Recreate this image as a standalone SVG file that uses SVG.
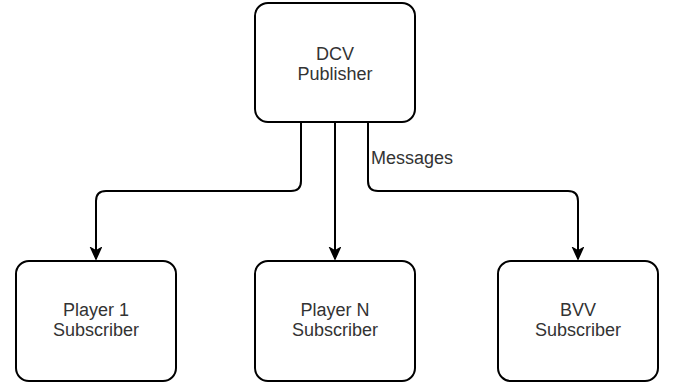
<svg xmlns="http://www.w3.org/2000/svg" width="673" height="383" viewBox="0 0 673 383">
<style>
.box{fill:#fff;stroke:#000;stroke-width:2}
.lbl{font-family:"Liberation Sans",Arial,sans-serif;font-size:18px;fill:#333;text-anchor:middle}
.edge{fill:none;stroke:#000;stroke-width:2}
.el{font-family:"Liberation Sans",Arial,sans-serif;font-size:18px;fill:#333}
</style>
<defs>
<marker id="arr" markerUnits="userSpaceOnUse" markerWidth="14" markerHeight="14" refX="12" refY="6" orient="auto">
<path d="M1,1 L12,6 L1,11 L4,6 z" fill="#000" stroke="#000" stroke-width="1.5" stroke-linejoin="miter"/>
</marker>
</defs>
<g id="connectors">
<path class="edge" d="M301,122 V181 Q301,191 291,191 H106 Q96,191 96,201 V259" marker-end="url(#arr)"/>
<path class="edge" d="M335,122 V259" marker-end="url(#arr)"/>
<path class="edge" d="M368,122 V181 Q368,191 378,191 H568 Q578,191 578,201 V259" marker-end="url(#arr)"/>
<text class="el" x="371" y="164">Messages</text>
</g>
<g id="dcv-publisher">
<rect class="box" x="255" y="3" width="160" height="119" rx="13"/>
<text class="lbl" x="335" y="60">DCV</text>
<text class="lbl" x="335" y="80">Publisher</text>
</g>
<g id="player1">
<rect class="box" x="16" y="261" width="160" height="120" rx="13"/>
<text class="lbl" x="96" y="316">Player 1</text>
<text class="lbl" x="96" y="336">Subscriber</text>
</g>
<g id="playerN">
<rect class="box" x="255" y="261" width="160" height="120" rx="13"/>
<text class="lbl" x="335" y="316">Player N</text>
<text class="lbl" x="335" y="336">Subscriber</text>
</g>
<g id="bvv">
<rect class="box" x="498" y="261" width="160" height="120" rx="13"/>
<text class="lbl" x="578" y="316">BVV</text>
<text class="lbl" x="578" y="336">Subscriber</text>
</g>
</svg>
